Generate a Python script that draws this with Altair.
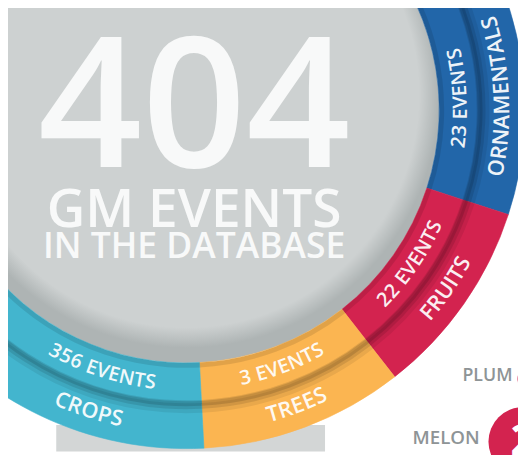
import math
import altair as alt
import pandas as pd

# ---------------- data ----------------
categories = ["ORNAMENTALS", "FRUITS", "TREES", "CROPS"]
event_counts = [23, 22, 3, 356]
ring_colors = ["#2266a9", "#d3234f", "#fbb551", "#43b5ce"]
# the infographic ring is not proportional: visual span of each segment (deg)
display_span_deg = [62, 34, 35, 229]
label_center_deg = [87.5, 124.5, 159.5, 198]

side_labels = ["PLUM", "MELON"]
side_counts = [1, 2]

total_events = sum(event_counts)

# ---------------- layout ----------------
W, H = 518, 447
CX, CY = 181, 100
R_DISK = 257
R_SPLIT = 298
R_OUT = 344
RING_START = 46
FONT = "Open Sans"

theta_scale = alt.Scale(domain=[0, 360], range=[0, 2 * math.pi])

starts, ends = [], []
acc = RING_START
for s in display_span_deg:
    starts.append(acc)
    acc += s
    ends.append(acc)

ring_df = pd.DataFrame({
    "cat": categories, "count": event_counts, "color": ring_colors,
    "start": starts, "end": ends,
})
disk_df = pd.DataFrame({"start": [0], "end": [360]})


def arc_layer(df, inner, outer, fill=None, opacity=1.0, gradient=None):
    kw = dict(innerRadius=inner, outerRadius=outer, opacity=opacity)
    if gradient is not None:
        kw["fill"] = gradient
    elif fill is not None:
        kw["fill"] = fill
    enc = dict(
        theta=alt.Theta("start:Q", scale=theta_scale, stack=False),
        theta2="end:Q",
        x=alt.value(CX), y=alt.value(CY),
    )
    if fill is None and gradient is None:
        enc["fill"] = alt.Fill("color:N", scale=None)
        enc["stroke"] = alt.Stroke("color:N", scale=None)
        kw["strokeWidth"] = 0.6
    return alt.Chart(df).mark_arc(**kw).encode(**enc)


# bottom grey block (part of the next panel)
block = alt.Chart(pd.DataFrame({"a": [0]})).mark_rect(color="#d3d6d6").encode(
    x=alt.value(49), x2=alt.value(322), y=alt.value(420), y2=alt.value(H)
)

disk_grad = alt.RadialGradient(
    gradient="radial", x1=0.5, y1=0.47, r1=0, x2=0.5, y2=0.47, r2=0.5,
    stops=[alt.GradientStop(offset=0, color="#cdd1d1"),
           alt.GradientStop(offset=0.92, color="#cdd1d1"),
           alt.GradientStop(offset=1, color="#aeb4b4")],
)
disk = arc_layer(disk_df, 0, R_DISK, gradient=disk_grad)

outer_track = arc_layer(ring_df, R_SPLIT - 1, R_OUT)
inner_track = arc_layer(ring_df, R_DISK, R_SPLIT + 1)
shadow1 = arc_layer(ring_df, R_SPLIT, R_SPLIT + 10, fill="#000000", opacity=0.07)
shadow2 = arc_layer(ring_df, R_SPLIT - 3, R_SPLIT + 6, fill="#000000", opacity=0.10)
shadow3 = arc_layer(ring_df, R_SPLIT - 2, R_SPLIT + 3, fill="#000000", opacity=0.12)
shadow4 = arc_layer(ring_df, R_DISK, R_DISK + 5, fill="#000000", opacity=0.10)

# ---------------- curved labels ----------------
CW = {" ": 0.26, "A": 0.633, "B": 0.648, "C": 0.631, "D": 0.729, "E": 0.556,
      "F": 0.516, "G": 0.728, "H": 0.738, "I": 0.279, "L": 0.524, "M": 0.903,
      "N": 0.754, "O": 0.779, "P": 0.602, "R": 0.618, "S": 0.536, "T": 0.549,
      "U": 0.733, "V": 0.586}

rows = []
for i, cat in enumerate(categories):
    for text, r, fs in [(f"{event_counts[i]} EVENTS", 279, 20), (cat, 321, 22)]:
        widths = [CW.get(c, 0.572) * fs * 1.03 for c in text]
        total = sum(widths)
        pos = 0.0
        for c, w in zip(text, widths):
            mid = pos + w / 2
            th = label_center_deg[i] + math.degrees((total / 2 - mid) / r)
            rows.append({"ch": c, "theta": th, "r": r, "rot": (th - 180) % 360, "fs": fs})
            pos += w
label_df = pd.DataFrame(rows)

labels = alt.Chart(label_df).mark_text(
    font=FONT, fontWeight=600, align="center", baseline="middle", color="#ffffff", opacity=0.92
).encode(
    text="ch:N",
    theta=alt.Theta("theta:Q", scale=theta_scale, stack=False),
    radius=alt.Radius("r:Q", scale=None),
    angle=alt.Angle("rot:Q", scale=None),
    size=alt.Size("fs:Q", scale=None),
    x=alt.value(CX), y=alt.value(CY),
)

# ---------------- centre text ----------------
center_df = pd.DataFrame({
    "txt": [str(total_events), "GM EVENTS", "IN THE DATABASE"],
    "yy": [158, 219, 250],
    "fs": [185, 54, 36],
})
center = alt.Chart(center_df).mark_text(
    font=FONT, fontWeight=600, align="center", baseline="alphabetic", color="#f8f9f9"
).encode(
    text="txt:N",
    x=alt.value(189),
    y=alt.Y("yy:Q", scale=None),
    size=alt.Size("fs:Q", scale=None),
)

# ---------------- side items ----------------
side_df = pd.DataFrame({
    "name": side_labels, "n": [str(v) for v in side_counts],
    "tx": [487, 445], "ty": [375, 439],
    "bx": [530, 523], "by": [373, 437],
    "sz": [625, 4900], "fs": [18, 19],
})
side_text = alt.Chart(side_df).mark_text(
    font=FONT, fontWeight=600, align="center", baseline="alphabetic", color="#8e9496"
).encode(
    text="name:N", x=alt.X("tx:Q", scale=None), y=alt.Y("ty:Q", scale=None),
    size=alt.Size("fs:Q", scale=None),
)
side_dot = alt.Chart(side_df).mark_circle(color="#d3234f", opacity=1).encode(
    x=alt.X("bx:Q", scale=None), y=alt.Y("by:Q", scale=None),
    size=alt.Size("sz:Q", scale=None),
)
side_num = alt.Chart(side_df).mark_text(
    font=FONT, fontWeight=700, align="center", baseline="middle", color="#ffffff", fontSize=44
).encode(
    text="n:N", x=alt.X("bx:Q", scale=None), y=alt.Y("by:Q", scale=None),
)

chart = alt.layer(
    block, disk, outer_track, inner_track, shadow1, shadow2, shadow3, shadow4,
    labels, center, side_dot, side_num, side_text,
).properties(
    width=W, height=H, padding=0, autosize=alt.AutoSizeParams(type="none"),
    background="#ffffff",
).configure_view(stroke=None)

chart.save("out.html", embed_options={"renderer": "svg", "actions": False})
